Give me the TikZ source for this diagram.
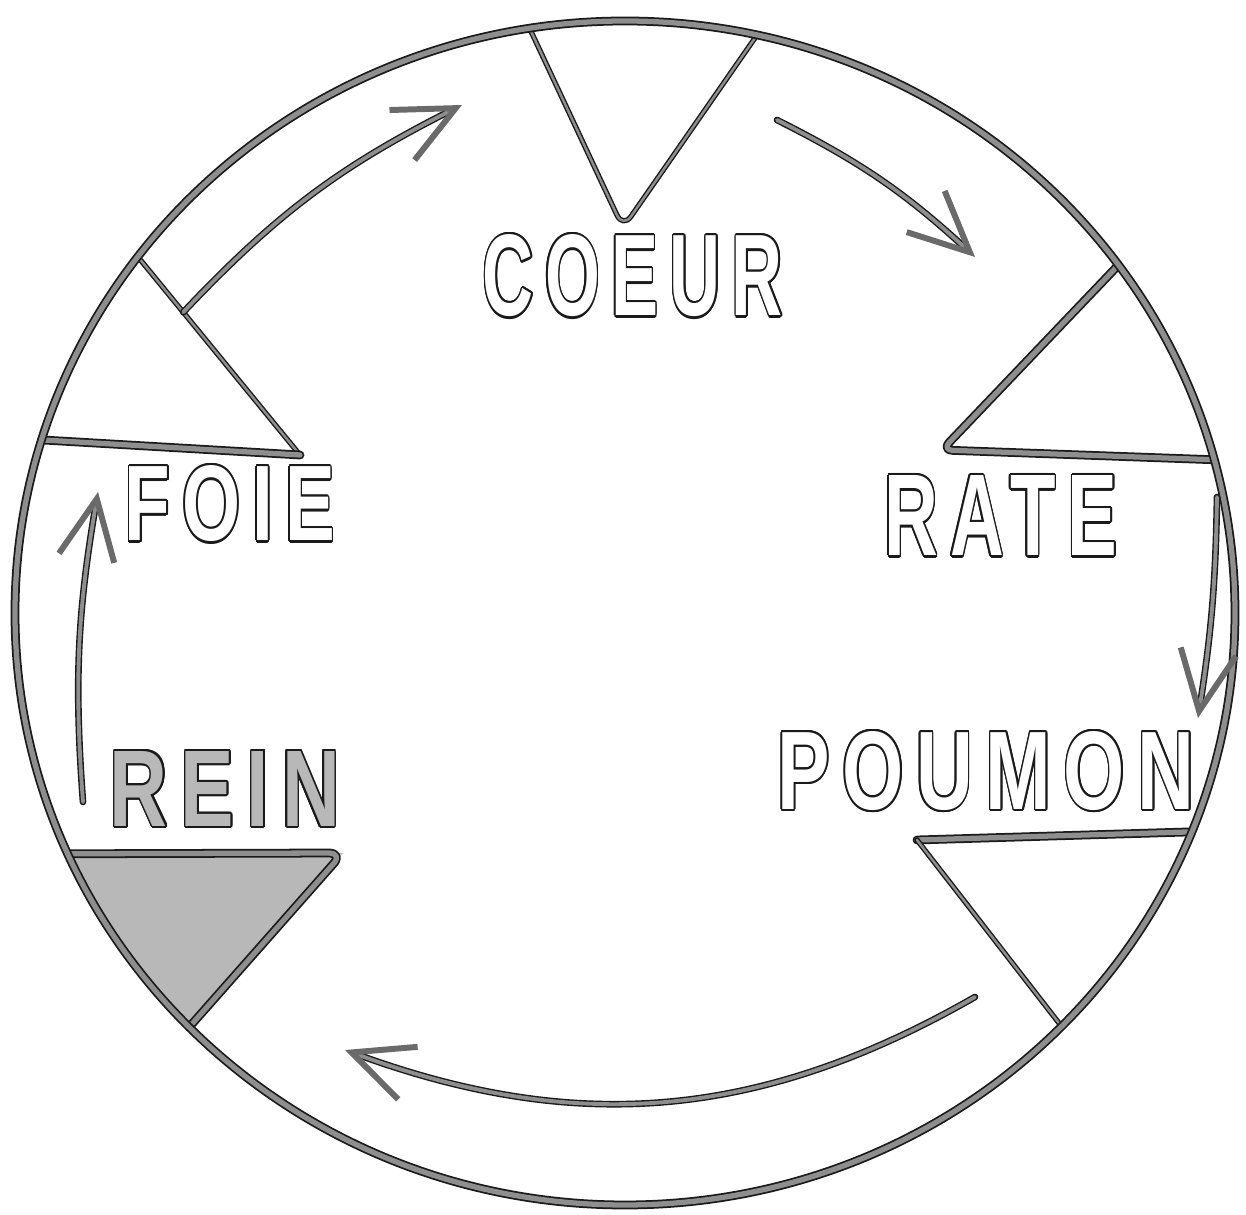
\documentclass[tikz,border=0pt]{standalone}
\usepackage{fontspec}
\usepackage{graphicx}
\usepackage[copies]{contour}
\usetikzlibrary{arrows.meta,calc}
\newfontfamily\organfont[LetterSpace=16]{Liberation Sans Bold}
\definecolor{RimInk}{HTML}{1A1A1A}
\definecolor{RimGray}{HTML}{8E8E8E}
\definecolor{KidneyFill}{HTML}{B8B8B8}
\contourlength{0.02em}
\newcommand{\organlabel}[4][white]{\resizebox{#2}{#3}{\organfont\contour{RimInk}{\textcolor{#1}{#4}}}}

\begin{document}
\begin{tikzpicture}[>=Stealth, line join=round, line cap=round,
    rim/.style={draw=RimInk, line width=0.5pt, double=RimGray, double distance=1.5pt},
    thinrim/.style={draw=RimInk, line width=0.4pt, double=RimGray, double distance=0.7pt},
    flow/.style={draw=RimInk, line width=0.4pt, double=RimGray, double distance=1.1pt,
      -{Straight Barb[length=6mm, width=5.6mm, line width=1.7pt, color=RimGray!75!black]}}]
  \useasboundingbox (0,0) rectangle (12.46,12.15);
  \coordinate (ctr) at (6.25,6.02);
  % points on the rim
  \foreach \n/\a in {c1/99, c2/77.5, f1/143, f2/163, r1/36, r2/15, p1/-21.7, p3/-44.3, n1/204, n3/224.4}
    \coordinate (\n) at ([shift={(ctr)}]\a:6.10 and 5.92);
  \coordinate (c3) at (6.23,9.87);
  \coordinate (f3) at (3.00,7.60);
  \coordinate (r3) at (9.42,7.65);
  \coordinate (p2) at (9.17,3.75);
  \coordinate (n2) at (3.43,3.62);

  % kidney segment, shaded
  \fill[KidneyFill] (n1) -- (n2) -- (n3) arc[start angle=224.4, end angle=204, x radius=6.10, y radius=5.92] -- cycle;

  \draw[thinrim, rounded corners=4pt] (c1) -- (c3) -- (c2);
  \draw[thinrim] (f1) -- (f3);
  \draw[rim] (f3) -- (f2);
  \draw[rim, rounded corners=3pt] (r1) -- (r3) -- (r2);
  \draw[rim] (p1) -- (p2);
  \draw[thinrim] (p2) -- (p3);
  \draw[rim, rounded corners=4pt] (n1) -- (n2) -- (n3);
  \draw[rim] (ctr) ellipse [x radius=6.10, y radius=5.92];

  \node (coeur) at (6.33,9.38) {\organlabel{3.00cm}{0.81cm}{COEUR}};
  \node (foie) at (2.30,7.10) {\organlabel{2.10cm}{0.75cm}{FOIE}};
  \node (rate) at (10.01,6.98) {\organlabel{2.33cm}{0.80cm}{RATE}};
  \node (poumon) at (9.86,4.43) {\organlabel{4.17cm}{0.78cm}{POUMON}};
  \node (rein) at (2.25,4.25) {\organlabel[KidneyFill]{2.30cm}{0.75cm}{REIN}};

  % circulation arrows
  \coordinate (a1s) at ($(f1)!0.28!(f3)$);
  \coordinate (a1e) at (4.62,11.10);
  \coordinate (a2s) at (7.77,10.95);
  \coordinate (a2e) at (9.75,9.58);
  \coordinate (a3s) at (12.17,7.18);
  \coordinate (a3e) at (11.98,4.97);
  \coordinate (a4s) at (9.75,2.18);
  \coordinate (a4e) at (3.45,1.65);
  \coordinate (a5s) at (0.83,4.13);
  \coordinate (a5e) at (0.98,7.23);
  \foreach \s/\e/\b in {a1s/a1e/10, a2s/a2e/8, a3s/a3e/4, a4s/a4e/25, a5s/a5e/7}
    \draw[flow] (\s) to[bend left=\b] (\e);
\end{tikzpicture}
\end{document}
